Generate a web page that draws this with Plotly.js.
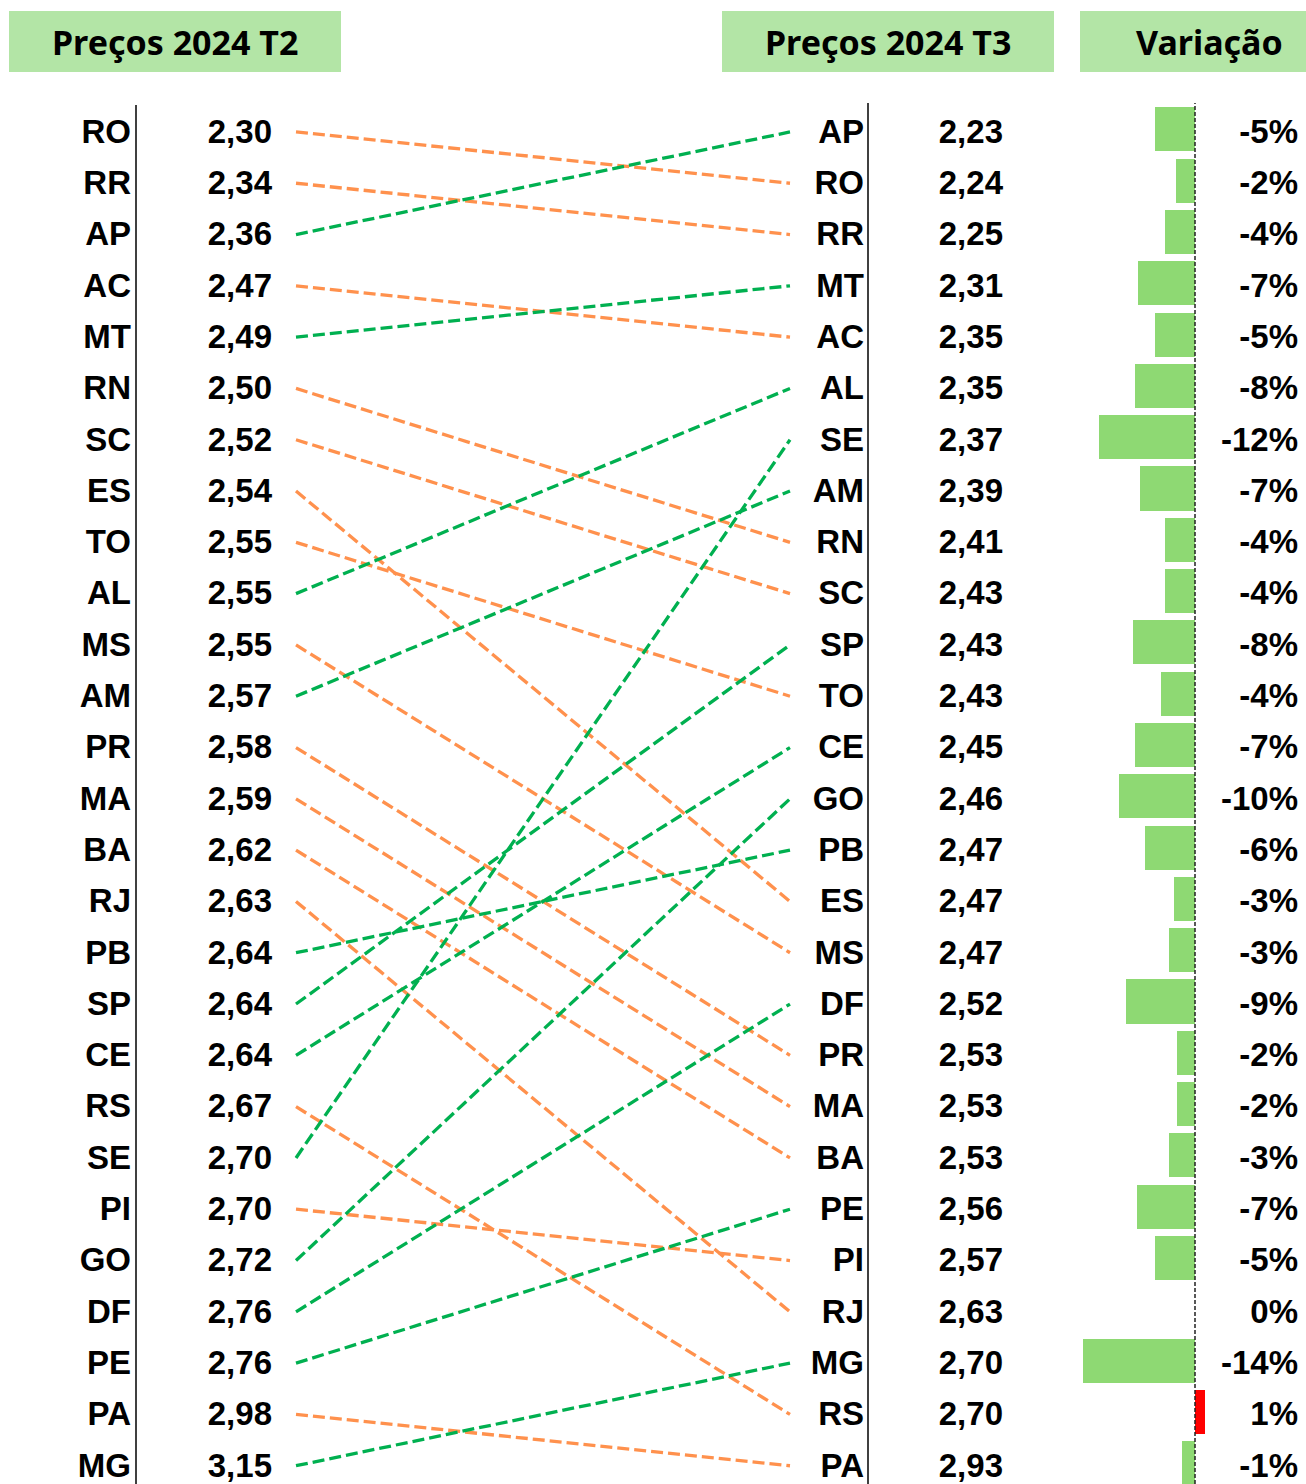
<!DOCTYPE html>
<html>
<head>
<meta charset="utf-8">
<script src="https://cdn.plot.ly/plotly-3.0.1.min.js"></script>
<style>
  html, body { margin: 0; padding: 0; background: #ffffff; }
  #chart { width: 1306px; height: 1484px; }
</style>
</head>
<body>
<div id="chart"></div>
<script>
// ---- Data ----
const statesT2 = ["RO","RR","AP","AC","MT","RN","SC","ES","TO","AL","MS","AM","PR","MA","BA","RJ","PB","SP","CE","RS","SE","PI","GO","DF","PE","PA","MG"];
const pricesT2 = [2.30,2.34,2.36,2.47,2.49,2.50,2.52,2.54,2.55,2.55,2.55,2.57,2.58,2.59,2.62,2.63,2.64,2.64,2.64,2.67,2.70,2.70,2.72,2.76,2.76,2.98,3.15];

const statesT3 = ["AP","RO","RR","MT","AC","AL","SE","AM","RN","SC","SP","TO","CE","GO","PB","ES","MS","DF","PR","MA","BA","PE","PI","RJ","MG","RS","PA"];
const pricesT3 = [2.23,2.24,2.25,2.31,2.35,2.35,2.37,2.39,2.41,2.43,2.43,2.43,2.45,2.46,2.47,2.47,2.47,2.52,2.53,2.53,2.53,2.56,2.57,2.63,2.70,2.70,2.93];

// variation (%) in T3 order
const varPct = [-5.0,-2.4,-3.7,-7.1,-5.0,-7.5,-12.0,-6.9,-3.7,-3.7,-7.75,-4.3,-7.5,-9.5,-6.3,-2.6,-3.3,-8.6,-2.2,-2.2,-3.3,-7.3,-5.0,0.0,-14.0,1.2,-1.6];
const varLabels = ["-5%","-2%","-4%","-7%","-5%","-8%","-12%","-7%","-4%","-4%","-8%","-4%","-7%","-10%","-6%","-3%","-3%","-9%","-2%","-2%","-3%","-7%","-5%","0%","-14%","1%","-1%"];

const headers = ["Preços 2024 T2", "Preços 2024 T3", "Variação"];

// ---- Styling / layout constants ----
const W = 1306, H = 1484;
const ROW0 = 134.5, ROWSTEP = 51.3;
const yTop = -ROW0 / ROWSTEP;
const yBot = yTop + H / ROWSTEP;

const X_STATE_L = 131, X_PRICE_L = 272, X_LINE_L = 296;
const X_LINE_R = 790, X_STATE_R = 864, X_PRICE_R = 1003, X_PCT = 1298;
const ZERO_PX = 1195, PX_PER_PCT = 8;
const BAR_W = 0.86;

const GREEN_LINE = "#00B050", ORANGE_LINE = "#FF914D";
const BAR_GREEN = "#8ED973", BAR_RED = "#FF0000", HEADER_FILL = "#B3E5A6";
const TXT_FONT = {family: "Liberation Sans, Arial, sans-serif", size: 33, color: "#000000", weight: "bold"};

const fmt = v => v.toFixed(2).replace(".", ",");

const traces = [];

// connecting lines
statesT2.forEach((s, i) => {
  const j = statesT3.indexOf(s);
  const up = j < i;
  traces.push({
    type: "scatter", mode: "lines", x: [X_LINE_L, X_LINE_R], y: [i - 0.05, j - 0.05],
    line: {color: up ? GREEN_LINE : ORANGE_LINE, width: 3.3, dash: "12px,5px"},
    hoverinfo: "skip", showlegend: false
  });
});

const idx2 = statesT2.map((_, i) => i);
const idx3 = statesT3.map((_, i) => i);

function textTrace(xpx, ys, texts) {
  return {
    type: "scatter", mode: "text", x: ys.map(() => xpx), y: ys, text: texts,
    textposition: "middle left", textfont: TXT_FONT, cliponaxis: false,
    hoverinfo: "skip", showlegend: false
  };
}
traces.push(textTrace(X_STATE_L, idx2, statesT2));
traces.push(textTrace(X_PRICE_L, idx2, pricesT2.map(fmt)));
traces.push(textTrace(X_STATE_R, idx3, statesT3));
traces.push(textTrace(X_PRICE_R, idx3, pricesT3.map(fmt)));
traces.push(textTrace(X_PCT, idx3, varLabels));

// variation bars
traces.push({
  type: "bar", orientation: "h", x: varPct, y: idx3, xaxis: "x2", yaxis: "y",
  width: BAR_W, offset: -BAR_W / 2 - 0.1,
  marker: {color: varPct.map(v => v > 0 ? BAR_RED : BAR_GREEN), line: {width: 0}},
  hoverinfo: "skip", showlegend: false
});

const py = px => 1 - px / H;
const shapes = [
  // header boxes
  {type: "rect", xref: "paper", yref: "paper", x0: 9/W, x1: 341/W, y0: py(72), y1: py(11), fillcolor: HEADER_FILL, line: {width: 0}, layer: "below"},
  {type: "rect", xref: "paper", yref: "paper", x0: 722/W, x1: 1054/W, y0: py(72), y1: py(11), fillcolor: HEADER_FILL, line: {width: 0}, layer: "below"},
  {type: "rect", xref: "paper", yref: "paper", x0: 1080/W, x1: 1306/W, y0: py(72), y1: py(11), fillcolor: HEADER_FILL, line: {width: 0}, layer: "below"},
  // vertical separators
  {type: "line", xref: "paper", yref: "paper", x0: 136/W, x1: 136/W, y0: 0, y1: py(105), line: {color: "#404040", width: 2}},
  {type: "line", xref: "paper", yref: "paper", x0: 868/W, x1: 868/W, y0: 0, y1: py(103), line: {color: "#404040", width: 2}},
  // zero line of variation bars
  {type: "line", xref: "x2", yref: "paper", x0: 0, x1: 0, y0: 0, y1: py(103), line: {color: "#222222", width: 1.5, dash: "4px,2px"}, layer: "above"}
];

const headerX = [175, 888, 1209];
const annotations = headers.map((t, k) => ({
  xref: "paper", yref: "paper", x: headerX[k] / W, y: py(42),
  text: "<b>" + t + "</b>", showarrow: false, xanchor: "center", yanchor: "middle",
  font: {family: "Noto Sans, Open Sans, sans-serif", size: 34, color: "#000000"}
}));

const layout = {
  width: W, height: H,
  margin: {l: 0, r: 0, t: 0, b: 0},
  paper_bgcolor: "#ffffff", plot_bgcolor: "#ffffff",
  showlegend: false,
  xaxis: {range: [0, W], visible: false, fixedrange: true},
  xaxis2: {range: [-ZERO_PX / PX_PER_PCT, (W - ZERO_PX) / PX_PER_PCT], overlaying: "x", visible: false, fixedrange: true},
  yaxis: {range: [yBot, yTop], visible: false, fixedrange: true},
  bargap: 0,
  shapes: shapes,
  annotations: annotations
};

Plotly.newPlot("chart", traces, layout, {displayModeBar: false, staticPlot: true});
</script>
</body>
</html>
